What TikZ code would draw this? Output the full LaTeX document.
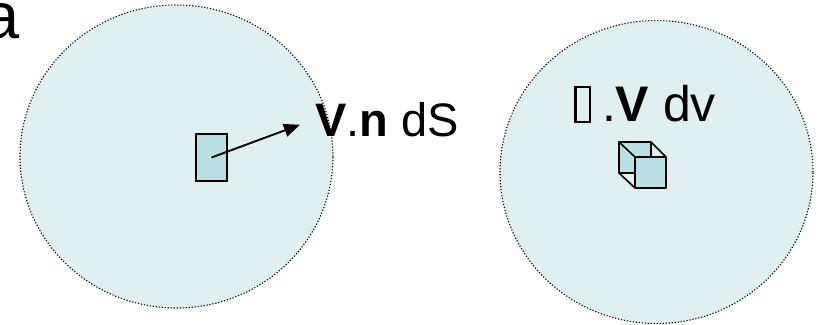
\documentclass[tikz,border=0pt]{standalone}
\usepackage{fontspec}
\setmainfont{Liberation Sans}
\usepackage{xcolor}
\usetikzlibrary{shapes.geometric, arrows.meta, positioning}
\definecolor{spherefill}{HTML}{E0F0F0}
\definecolor{elemfill}{HTML}{BBE0E3}
\newcommand{\tofu}{{\setlength\fboxsep{0pt}\setlength\fboxrule{2.4pt}\fbox{\rule{0pt}{33pt}\hspace{12pt}}}\hspace{11pt}}

\begin{document}
\begin{tikzpicture}[
    x=1pt, y=-1pt,
    vol/.style={ellipse, draw=black, dash pattern=on 1.2pt off 1.8pt, line width=1.1pt, fill=spherefill, minimum width=313pt, minimum height=303pt, inner sep=0pt},
    elem/.style={rectangle, draw=black, line width=1.4pt, fill=elemfill, minimum width=31pt, minimum height=47pt, inner sep=0pt},
    lbl/.style={inner sep=0pt, font=\fontsize{47}{56}\selectfont},
    arr/.style={-{Triangle[length=16pt, width=13pt]}, line width=1.9pt},
    cubeedge/.style={line width=1.6pt, line join=round}
]
\useasboundingbox (0,0) rectangle (821,324);

% Volumes
\node[vol] (surf) at (176.5,156.5) {};
\node[vol] (vlm) at (656.5,172) {};
\node[anchor=base east, inner sep=0pt, font=\fontsize{65}{78}\selectfont] (head) at (20,38) {a};

% Surface element
\node[elem] (patch) at (211.5,157.5) {};
\node[lbl, anchor=base west] (flux) at (315,136) {\textbf{V}.\textbf{n} dS};
\draw[arr, shorten >=16pt] (patch.center) -- (flux.west);

% Volume element
\node[lbl, anchor=base west, font=\fontsize{50}{60}\selectfont] (div) at (574,121) {\tofu.\textbf{V} dv};
\draw[cubeedge, fill=elemfill] (619,142) rectangle (651,173);
\draw[cubeedge] (619,142) -- (635,157) (651,142) -- (666,157) (619,173) -- (635,188);
\draw[cubeedge, fill=elemfill] (635,157) rectangle (666,188);

\end{tikzpicture}
\end{document}
